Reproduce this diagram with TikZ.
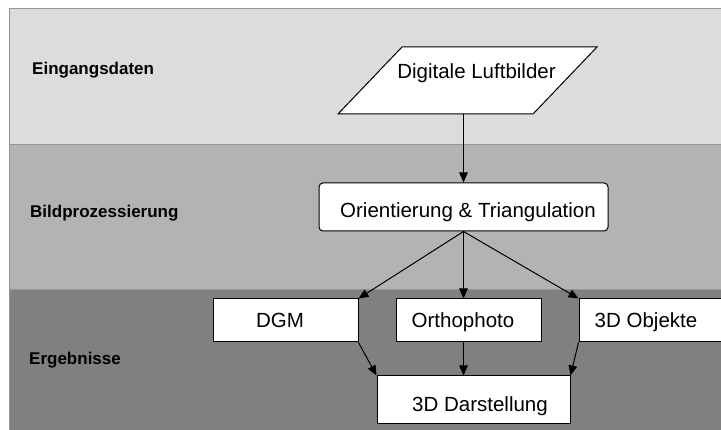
\documentclass[tikz,border=0pt]{standalone}
\usepackage{fontspec}
\setmainfont{Liberation Sans}
\usetikzlibrary{arrows.meta}
\definecolor{bandA}{RGB}{220,220,220}
\definecolor{bandB}{RGB}{179,179,179}
\definecolor{bandC}{RGB}{128,128,128}
\definecolor{bandLine}{RGB}{150,150,150}
\begin{document}
\begin{tikzpicture}[x=1pt,y=-1pt,
		box/.style={shape=rectangle,draw=black,fill=white,line width=1pt,inner sep=0pt,
			minimum height=43pt,minimum width=145pt,font=\fontsize{20.5}{24}\selectfont},
		low/.style={text height=#1,text depth=4.3pt},
		high/.style={text height=15pt,text depth=#1},
		lane/.style={anchor=west,inner sep=0pt,font=\fontsize{17}{20}\selectfont\bfseries},
		arr/.style={-{Triangle[length=10pt,width=8.5pt]},line width=1pt}]
			\useasboundingbox (0,0) rectangle (721,430);
			\fill[white] (0,0) rectangle (721,430);
			% Baender
			\draw[fill=bandA,draw=bandLine,line width=0.6pt] (9.5,8) rectangle (725,144);
			\draw[fill=bandB,draw=bandLine,line width=0.6pt] (9.5,144) rectangle (725,289);
			\draw[fill=bandC,draw=bandLine,line width=0.6pt] (9.5,289) rectangle (725,435);
			\node[lane] (ein) at (32,70) {Eingangsdaten};
			\node[lane] (bild) at (30,213) {Bildprozessierung};
			\node[lane] (erg) at (29,360) {Ergebnisse};
		
			\draw[fill=white,line width=1pt] (338,114) -- (402,47) -- (597,47) -- (533,114) -- cycle;
			\node[inner sep=0pt,minimum width=195pt,minimum height=67pt,high=18.5pt,font=\fontsize{20.5}{24}\selectfont] (luft) at (467.5,80.5) {\hspace*{18pt}Digitale Luftbilder};
			\node[box,rounded corners=4pt,minimum width=289pt,minimum height=48pt,low=25pt] (orient) at (463.5,207) {\hspace*{9pt}Orientierung \& Triangulation};
			\node[box,low=18pt] (dgm) at (285.5,320.5) {DGM\hspace*{11pt}};
			\node[box,low=18pt] (ortho) at (468.5,320.5) {Orthophoto\hspace*{11pt}};
			\node[box,low=18pt] (obj) at (651.5,320.5) {3D Objekte\hspace*{11pt}};
			\node[box,minimum width=193pt,minimum height=48pt,low=27pt] (darst) at (473.5,400) {\hspace*{13pt}3D Darstellung};
		
			\draw[arr] (luft.south -| orient.north) -- (orient.north);
			\draw[arr] (orient.south) -- (dgm.north east);
			\draw[arr] (orient.south) -- (orient.south |- ortho.north);
			\draw[arr] (orient.south) -- (obj.north west);
			\draw[arr] (dgm.south east) -- (darst.north west);
			\draw[arr] (ortho.south -| orient.south) -- (orient.south |- darst.north);
			\draw[arr] (obj.south west) -- (darst.north east);
		\end{tikzpicture}
\end{document}
